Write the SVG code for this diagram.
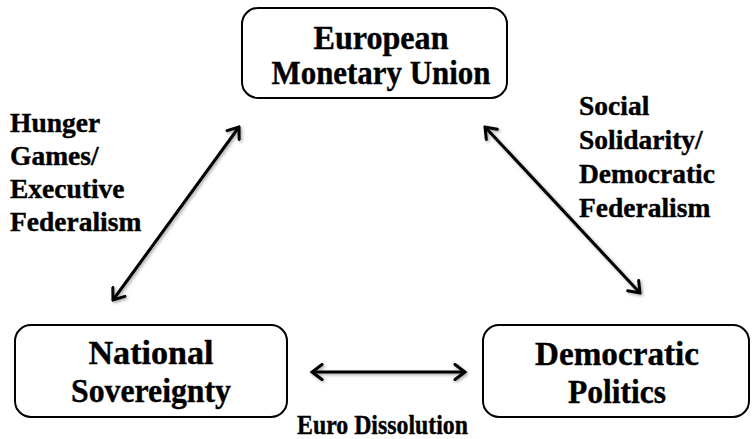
<svg xmlns="http://www.w3.org/2000/svg" width="753" height="439" viewBox="0 0 753 439">
<defs>
<style>
.box{fill:#fff;stroke:#000;stroke-width:2}
.t{font-family:"Liberation Serif","Times New Roman",serif;font-weight:bold;fill:#000;stroke:#000;stroke-width:0.4}
.node{font-size:34px;text-anchor:middle}
.lbl{font-size:27.5px}
.conn{stroke:#000;stroke-width:3;fill:none;marker-start:url(#ah);marker-end:url(#ah)}
</style>
<filter id="sh" x="-20%" y="-20%" width="140%" height="140%">
<feDropShadow dx="1.5" dy="1.5" stdDeviation="1.5" flood-color="#000" flood-opacity="0.35"/>
</filter>
<marker id="ah" viewBox="-12 -9 14 18" markerWidth="14" markerHeight="18" refX="0" refY="0" orient="auto-start-reverse" markerUnits="userSpaceOnUse">
<path d="M-10,-7.5 L0,0 L-10,7.5" fill="none" stroke="#000" stroke-width="3" stroke-linecap="round" stroke-linejoin="miter"/>
</marker>
</defs>
<rect width="753" height="439" fill="#fff"/>
<g id="emu">
<rect class="box" x="242" y="8" width="265" height="90" rx="16"/>
<text class="t node" x="381" y="49" textLength="135" lengthAdjust="spacingAndGlyphs">European</text>
<text class="t node" x="381" y="84" textLength="219" lengthAdjust="spacingAndGlyphs">Monetary Union</text>
</g>
<g id="ns">
<rect class="box" x="15" y="325" width="272" height="92" rx="16"/>
<text class="t node" x="151" y="364" textLength="125" lengthAdjust="spacingAndGlyphs">National</text>
<text class="t node" x="151" y="402" textLength="160" lengthAdjust="spacingAndGlyphs">Sovereignty</text>
</g>
<g id="dp">
<rect class="box" x="483" y="325" width="266" height="92" rx="16"/>
<text class="t node" x="617" y="365" textLength="164" lengthAdjust="spacingAndGlyphs">Democratic</text>
<text class="t node" x="617" y="403" textLength="98" lengthAdjust="spacingAndGlyphs">Politics</text>
</g>
<g id="connectors" filter="url(#sh)">
<line class="conn" x1="113" y1="300" x2="239" y2="127"/>
<line class="conn" x1="485" y1="127" x2="640" y2="293"/>
<line class="conn" x1="312" y1="372" x2="465" y2="372"/>
</g>
<g id="labels">
<text class="t lbl" x="10"><tspan x="10" y="132">Hunger</tspan><tspan x="10" y="165">Games/</tspan><tspan x="10" y="198">Executive</tspan><tspan x="10" y="231">Federalism</tspan></text>
<text class="t lbl" x="579"><tspan x="579" y="115">Social</tspan><tspan x="579" y="149">Solidarity/</tspan><tspan x="579" y="183">Democratic</tspan><tspan x="579" y="217">Federalism</tspan></text>
<text class="t lbl" x="297" y="434" textLength="171" lengthAdjust="spacingAndGlyphs">Euro Dissolution</text>
</g>
</svg>
